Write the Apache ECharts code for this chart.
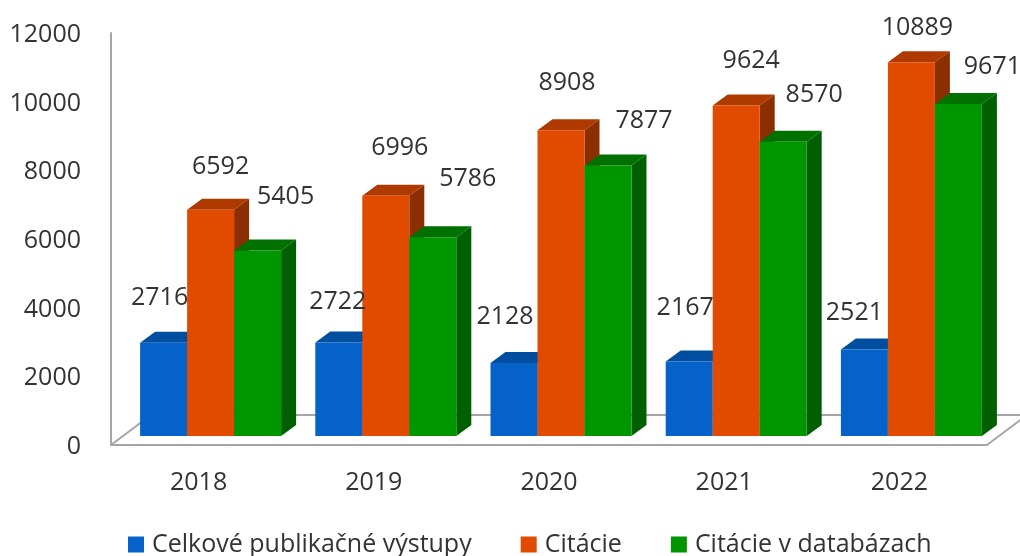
<!DOCTYPE html>
<html>
<head>
<meta charset="utf-8">
<style>html,body{margin:0;padding:0;background:#fff}#c{width:1020px;height:556px}</style>
<script src="https://cdn.jsdelivr.net/npm/echarts@6/dist/echarts.min.js"></script>
</head>
<body>
<div id="c"></div>
<script>
const categories = ['2018', '2019', '2020', '2021', '2022'];
const publications = [2716, 2722, 2128, 2167, 2521];
const citations = [6592, 6996, 8908, 9624, 10889];
const dbCitations = [5405, 5786, 7877, 8570, 9671];
const yTicks = { min: 0, max: 12000, interval: 2000 };
const seriesNames = ['Celkové publikačné výstupy', 'Citácie', 'Citácie v databázach'];

// label nudges relative to the top-centre of each bar's front face
const labelNudges = [
  [[-4,-45],[-1,-41],[-9,-46],[-4,-54],[-10,-37]],
  [[10,-43],[14,-48],[6,-47],[15,-45],[6,-34]],
  [[28,-54],[35,-58],[36,-45],[31,-47],[34,-37]]
];
const palette = [
  { front: '#0562C9', top: '#004E9F', side: '#004593' },
  { front: '#E14B00', top: '#AE3A00', side: '#8C2F00' },
  { front: '#009600', top: '#007000', side: '#006000' }
];
const FONT = '"Open Sans", sans-serif';
const TEXT = '#333333';
const barW = 47, depthX = 15, depthY = 11, shiftX = 12, shiftY = 9;

function barRender(si) {
  return function (params, api) {
    const i = api.value(0), v = api.value(1);
    const p0 = api.coord([i, 0]), p1 = api.coord([i, v]);
    const x = p0[0] + shiftX - 1.5 * barW + si * barW;
    const yb = p0[1] - shiftY, yt = p1[1] - shiftY;
    const c = palette[si];
    const nudge = labelNudges[si][i];
    return { type: 'group', children: [
      { type: 'polygon', shape: { points: [[x+barW,yb],[x+barW+depthX,yb-depthY],[x+barW+depthX,yt-depthY],[x+barW,yt]] }, style: { fill: c.side } },
      { type: 'polygon', shape: { points: [[x,yt],[x+depthX,yt-depthY],[x+barW+depthX,yt-depthY],[x+barW,yt]] }, style: { fill: c.top } },
      { type: 'rect', shape: { x: x, y: yt, width: barW, height: yb - yt }, style: { fill: c.front } },
      { type: 'text', z2: 100, style: { text: String(v), x: x + barW/2 + nudge[0], y: yt + nudge[1], align: 'center', verticalAlign: 'middle', fill: TEXT, font: '25px ' + FONT } }
    ]};
  };
}
function floorRender(params) {
  const cs = params.coordSys;
  const L = cs.x, R = cs.x + cs.width, B = cs.y + cs.height;
  const back = B - 30;
  const st = { stroke: '#A6A6A6', lineWidth: 2, fill: null };
  return { type: 'group', children: [
    { type: 'polyline', shape: { points: [[L,B],[L+40,back],[1020,back]] }, style: st },
    { type: 'polyline', shape: { points: [[R,B],[R+40,back]] }, style: st }
  ]};
}
const mk = (values) => values.map((v, i) => [i, v]);
const chart = echarts.init(document.getElementById('c'), null, { renderer: 'canvas' });
chart.setOption({
  animation: false,
  backgroundColor: '#ffffff',
  grid: { left: 111, top: 33, width: 876, height: 412, containLabel: false },
  legend: {
    left: 128, top: 532, padding: 0, itemWidth: 16, itemHeight: 16, itemGap: 49, icon: 'rect',
    data: seriesNames,
    textStyle: { fontFamily: FONT, fontSize: 25, color: TEXT, padding: [0,0,0,3] }
  },
  xAxis: {
    type: 'category', data: categories,
    axisTick: { show: false },
    axisLine: { lineStyle: { color: '#A6A6A6', width: 2 } },
    axisLabel: { fontFamily: FONT, fontSize: 25, color: TEXT, margin: 25 }
  },
  yAxis: {
    type: 'value', min: yTicks.min, max: yTicks.max, interval: yTicks.interval,
    splitLine: { show: false },
    axisTick: { show: false },
    axisLine: { show: true, lineStyle: { color: '#A6A6A6', width: 2 } },
    axisLabel: { fontFamily: FONT, fontSize: 25, color: TEXT, margin: 30, verticalAlign: 'top', lineHeight: 4, formatter: (v) => String(v) }
  },
  series: [
    { type: 'custom', name: 'floor', silent: true, renderItem: floorRender, data: [[0, 0]], encode: { x: 0, y: 1 } },
    { type: 'custom', name: seriesNames[0], renderItem: barRender(0), data: mk(publications), encode: { x: 0, y: 1 }, itemStyle: { color: palette[0].front } },
    { type: 'custom', name: seriesNames[1], renderItem: barRender(1), data: mk(citations), encode: { x: 0, y: 1 }, itemStyle: { color: palette[1].front } },
    { type: 'custom', name: seriesNames[2], renderItem: barRender(2), data: mk(dbCitations), encode: { x: 0, y: 1 }, itemStyle: { color: palette[2].front } }
  ]
});
</script>
</body>
</html>
